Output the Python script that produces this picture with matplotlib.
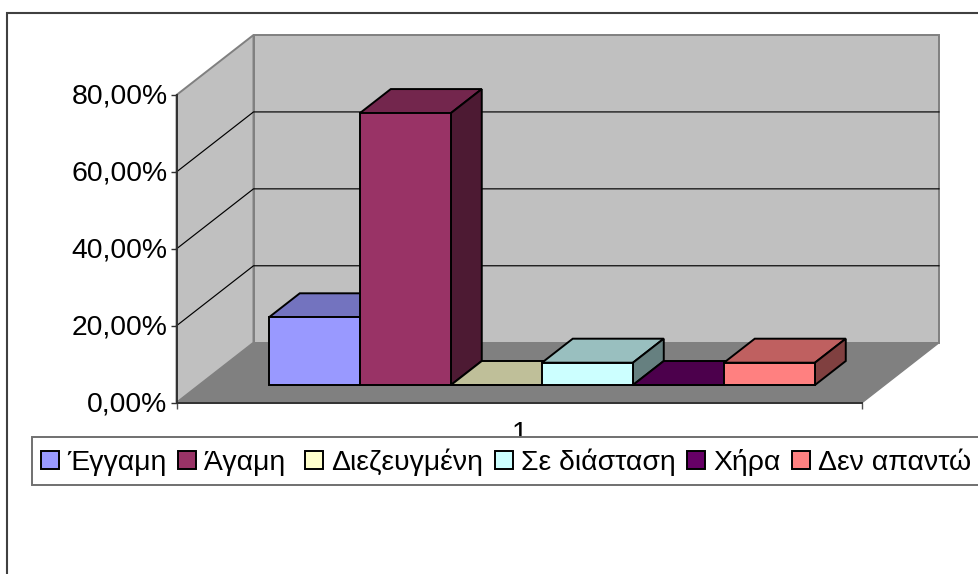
import matplotlib
matplotlib.use("Agg")
import matplotlib.pyplot as plt
from matplotlib.patches import Polygon, Rectangle
from matplotlib.transforms import ScaledTranslation

plt.rcParams['font.family'] = ['Liberation Sans', 'DejaVu Sans']

categories = ['Έγγαμη', 'Άγαμη ', 'Διεζευγμένη', 'Σε διάσταση', 'Χήρα', 'Δεν απαντώ']
values = [17.6, 70.7, 0.0, 5.8, 0.0, 5.8]
front_colors = ['#9999FF', '#993366', '#FFFFCC', '#CCFFFF', '#660066', '#FF8080']
top_colors = ['#7373BF', '#73264D', '#BFBF99', '#99BFBF', '#4C004C', '#BF6060']
side_colors = ['#4D4D80', '#4D1A33', '#808066', '#668080', '#330033', '#804040']
y_ticks = [0, 20, 40, 60, 80]
y_tick_labels = ['0,00%', '20,00%', '40,00%', '60,00%', '80,00%']
x_label = '1'

W, H = 979, 574
fig = plt.figure(figsize=(W / 100, H / 100), dpi=100, facecolor='white')
L, R, T, B = 176.5, 862.0, 95.0, 402.7
ax = fig.add_axes([L / W, 1 - B / H, (R - L) / W, (B - T) / H])
ax.set_xlim(0.5, 1.5)
ax.set_ylim(0, 80)
ax.patch.set_visible(False)

# chart frame (cropped by the image on the right and bottom)
fig.add_artist(Rectangle((7.5 / W, -0.1), 1.2, 1.1 - 13 / H, transform=fig.transFigure,
                         facecolor='none', edgecolor='#404040', linewidth=1.5, zorder=0))

# oblique projection: depth d in 0..1 moves a point by these data amounts
DX = 77.0 / (R - L)
DY = 60.0 / ((B - T) / 80)


def P(x, y, d):
    return (x + d * DX, y + d * DY)


def poly(pts, fc, ec, lw, z):
    ax.add_patch(Polygon(pts, closed=True, facecolor=fc, edgecolor=ec, linewidth=lw,
                         joinstyle='miter', clip_on=False, zorder=z))


x0, x1 = ax.get_xlim()
ytop = y_ticks[-1]
# floor, walls
poly([P(x0, 0, 1), P(x1, 0, 1), P(x1, ytop, 1), P(x0, ytop, 1)], '#C0C0C0', '#808080', 1.4, 1.1)
poly([P(x0, 0, 0), P(x0, 0, 1), P(x0, ytop, 1), P(x0, ytop, 0)], '#C0C0C0', '#808080', 1.4, 1.2)
poly([P(x0, 0, 0), P(x1, 0, 0), P(x1, 0, 1), P(x0, 0, 1)], '#808080', 'none', 0, 1.3)
ax.plot(*zip(P(x1, 0, 0), P(x1, 0, 1)), color='#808080', lw=1, clip_on=False, zorder=1.3)

# gridlines on side and back wall
for v in y_ticks[1:-1]:
    ax.plot(*zip(P(x0, v, 0), P(x0, v, 1), P(x1, v, 1)), color='black', lw=0.85,
            clip_on=False, zorder=1.5)

# bars
bar_w = 91.0 / (R - L)
d0, d1 = 0.295, 0.695
n = len(values)
for i, v in enumerate(values):
    a = 1 + (i - n / 2) * bar_w
    b = a + bar_w
    z = 2 + i * 0.1
    poly([P(a, v, d0), P(b, v, d0), P(b, v, d1), P(a, v, d1)], top_colors[i], 'black', 1.4, z)
    if v > 0:
        poly([P(b, 0, d0), P(b, 0, d1), P(b, v, d1), P(b, v, d0)], side_colors[i], 'black', 1.4, z)
        poly([P(a, 0, d0), P(b, 0, d0), P(b, v, d0), P(a, v, d0)], front_colors[i], 'black', 1.4, z)
    else:
        ax.plot(*zip(P(a, 0, d0), P(b, 0, d0)), color='black', lw=1.4, clip_on=False, zorder=z)

# axes
for s in ('top', 'right'):
    ax.spines[s].set_visible(False)
for s in ('left', 'bottom'):
    ax.spines[s].set_color('#303030')
    ax.spines[s].set_linewidth(1.4)
    ax.spines[s].set_zorder(1.6)
ax.set_yticks(y_ticks, y_tick_labels)
ax.tick_params(axis='y', length=4.5, width=1, color='#303030', labelsize=20.4, pad=2)
up = ScaledTranslation(0, 1.5 / 100, fig.dpi_scale_trans)
for lab in ax.get_yticklabels():
    lab.set_transform(lab.get_transform() + up)
ax.set_xticks([x0, 1, x1], ['', x_label, ''])
ax.tick_params(axis='x', length=4.5, width=1, color='#505050', labelsize=20.4, pad=9)
ax.xaxis.get_major_ticks()[1].tick1line.set_visible(False)

# legend
ax.add_patch(Rectangle((32 / W, 1 - 485 / H), 1.1, 48.3 / H, transform=fig.transFigure,
                       facecolor='white', edgecolor='#707070', linewidth=1.4,
                       clip_on=False, zorder=4.9))
handles = [Rectangle((0, 0), 1, 1, facecolor=c, edgecolor='black', linewidth=1.4) for c in front_colors]
fs = 20.4
px = fs * 100 / 72
leg = ax.legend(handles, categories, ncol=6, loc='center left',
                bbox_to_anchor=(41 / W, 1 - 462 / H),
                bbox_transform=fig.transFigure, fontsize=fs, frameon=False,
                handlelength=18 / px, handleheight=17 / px, handletextpad=8 / px,
                columnspacing=11.7 / px, borderpad=0, borderaxespad=0)
leg.set_zorder(5)

fig.savefig('out.png', dpi=100)
